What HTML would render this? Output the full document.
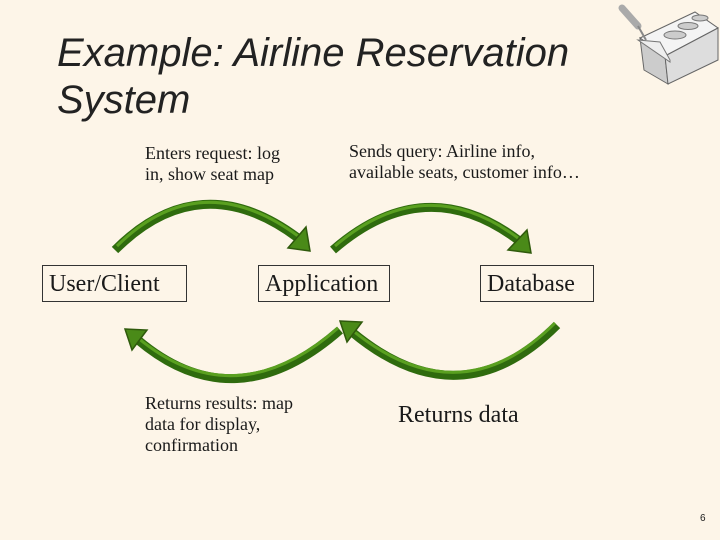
<!DOCTYPE html>
<html><head><style>
body{margin:0;width:720px;height:540px;background:#fdf5e8;position:relative;overflow:hidden;font-family:"Liberation Serif",serif;color:#1a1a1a}
.t{position:absolute;left:57px;font-family:"Liberation Sans",sans-serif;font-style:italic;font-size:40px;color:#222;line-height:47px}
.l{position:absolute;font-size:18px;line-height:21px}
.b{position:absolute;border:1px solid #333;font-size:24px;height:37px;line-height:37px;box-sizing:border-box;padding-left:6px;white-space:nowrap}
</style></head><body>
<div class="t" style="top:30px">Example: Airline Reservation<br>System</div>
<div class="l" style="left:145px;top:143px">Enters request: log<br>in, show seat map</div>
<div class="l" style="left:349px;top:141px">Sends query: Airline info,<br>available seats, customer info…</div>
<div class="l" style="left:145px;top:393px">Returns results: map<br>data for display,<br>confirmation</div>
<div class="l" style="left:398px;top:401px;font-size:24px;line-height:28px">Returns data</div>
<div class="b" style="left:42px;top:265px;width:145px">User/Client</div>
<div class="b" style="left:258px;top:265px;width:132px">Application</div>
<div class="b" style="left:480px;top:265px;width:114px">Database</div>
<div style="position:absolute;left:700px;top:513px;font-family:'Liberation Sans',sans-serif;font-size:10px">6</div>
<svg width="720" height="540" style="position:absolute;left:0;top:0">
<g fill="none" stroke="#2f6b0e" stroke-width="9">
<path d="M115,250 Q200,165 298,238"/>
<path d="M333,250 Q425,170 518,240"/>
<path d="M340,330 Q235,422 138,340"/>
<path d="M557,325 Q460,422 352,332"/>
</g>
<g fill="none" stroke="#5aa020" stroke-width="3">
<path d="M117,246 Q200,164 298,236"/>
<path d="M335,246 Q425,169 518,238"/>
<path d="M338,328 Q235,418 138,338"/>
<path d="M555,323 Q460,418 352,330"/>
</g>
<g fill="#4a8a18" stroke="#2f5a0c" stroke-width="1.5">
<polygon points="310,251 288,248 306,227"/>
<polygon points="531,253 508,250 527,230"/>
<polygon points="125,329 147,330 132,350"/>
<polygon points="340,321 362,322 347,342"/>
</g>
<g transform="translate(600,0)">
<polygon points="40,38 95,12 118,28 65,56" fill="#f4f4f4" stroke="#666"/>
<polygon points="40,38 65,56 68,84 44,70" fill="#ccc" stroke="#666"/>
<polygon points="65,56 118,28 118,60 68,84" fill="#ddd" stroke="#666"/>
<ellipse cx="100" cy="18" rx="8" ry="3" fill="#ccc" stroke="#777"/>
<ellipse cx="88" cy="26" rx="10" ry="3.5" fill="#ccc" stroke="#777"/>
<ellipse cx="75" cy="35" rx="11" ry="4" fill="#ccc" stroke="#777"/>
<polygon points="38,40 60,42 70,60 70,62" fill="#eee" stroke="#777"/>
<line x1="22" y1="8" x2="38" y2="26" stroke="#aaa" stroke-width="7" stroke-linecap="round"/>
<line x1="38" y1="26" x2="46" y2="40" stroke="#888" stroke-width="2"/>
</g>
</svg>
</body></html>
